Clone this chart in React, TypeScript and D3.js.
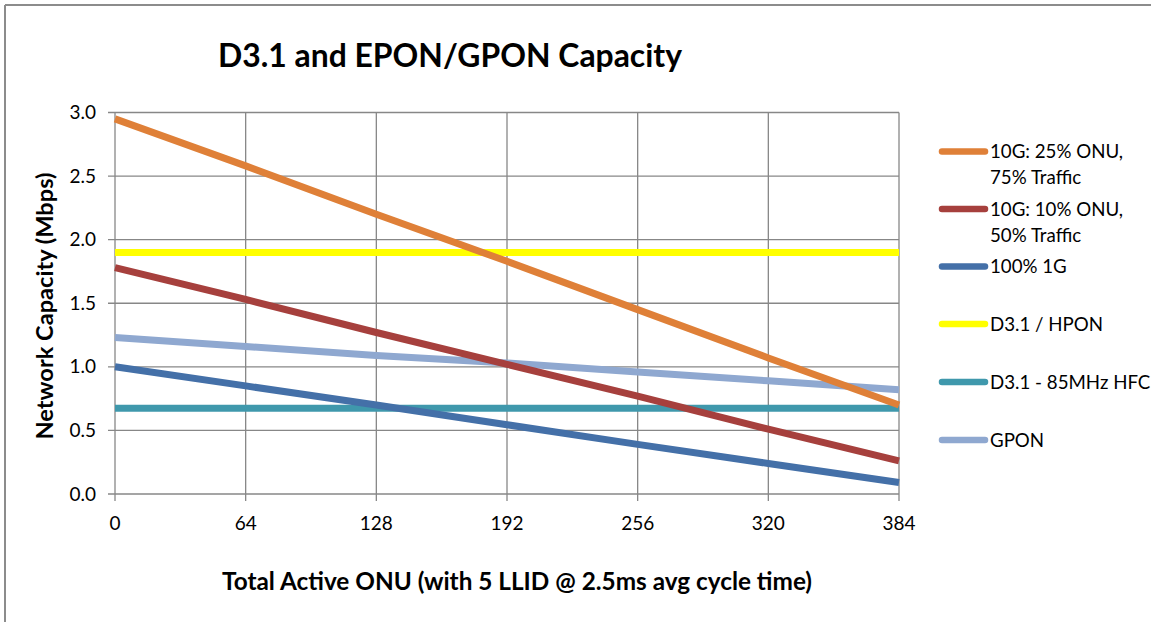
import React from "react";
import * as d3 from "d3";

const xTicks = [0, 64, 128, 192, 256, 320, 384];
const yTicks = [0, 0.5, 1.0, 1.5, 2.0, 2.5, 3.0];

const seriesNames = [
  ["10G: 25% ONU,", "75% Traffic"],
  ["10G: 10% ONU,", "50% Traffic"],
  ["100% 1G"],
  ["D3.1 / HPON"],
  ["D3.1 - 85MHz HFC"],
  ["GPON"],
];
const seriesColors = ["#DF8038", "#A6403D", "#4470A8", "#FFFF00", "#3F98AC", "#8FA8D0"];

const orange25 = [2.95, 2.58, 2.2, 1.83, 1.45, 1.07, 0.7];
const red10 = [1.78, 1.53, 1.27, 1.02, 0.77, 0.51, 0.26];
const blue1G = [1.0, 0.85, 0.7, 0.545, 0.39, 0.24, 0.09];
const yellowHPON = [1.9, 1.9, 1.9, 1.9, 1.9, 1.9, 1.9];
const tealHFC = [0.675, 0.675, 0.675, 0.675, 0.675, 0.675, 0.675];
const gpon = [1.23, 1.16, 1.09, 1.03, 0.96, 0.89, 0.82];

const seriesValues = [orange25, red10, blue1G, yellowHPON, tealHFC, gpon];
// drawing order: back to front
const drawOrder = [3, 4, 5, 2, 1, 0];

const W = 1151;
const H = 622;
const left = 115;
const right = 899;
const top = 112.5;
const bottom = 494;
const font = "Lato, Carlito, Calibri, sans-serif";

export default function App() {
  const x = d3.scaleLinear().domain([0, 384]).range([left, right]);
  const y = d3.scaleLinear().domain([0, 3]).range([bottom, top]);
  const line = d3
    .line<number>()
    .x((_, i) => x(xTicks[i]))
    .y((d) => y(d));
  const grid = "#878787";
  const legendY = [151.5, 209, 266.5, 324, 382, 440];

  return (
    <svg
      width={W}
      height={H}
      style={{ position: "absolute", left: 0, top: 0, background: "#fff" }}
      fontFamily={font}
    >
      <rect x={0} y={0} width={W} height={H} fill="#fff" />
      {/* outer frame */}
      <line x1={5} y1={5} x2={W} y2={5} stroke="#8c8c8c" strokeWidth={2} />
      <line x1={5} y1={5} x2={5} y2={H} stroke="#8c8c8c" strokeWidth={2} />

      <text
        x={450}
        y={67}
        textAnchor="middle"
        fontSize={32}
        fontWeight="bold"
        fill="#000"
        textLength={464}
        lengthAdjust="spacingAndGlyphs"
      >
        D3.1 and EPON/GPON Capacity
      </text>

      {/* grid */}
      {yTicks.map((t) => (
        <line key={"gy" + t} x1={left - 7} x2={right} y1={y(t)} y2={y(t)} stroke={grid} strokeWidth={1.3} />
      ))}
      {xTicks.map((t) => (
        <line key={"gx" + t} x1={x(t)} x2={x(t)} y1={top} y2={bottom + 7} stroke={grid} strokeWidth={1.3} />
      ))}

      {/* y labels */}
      {yTicks.map((t) => (
        <text key={"yl" + t} x={96} y={y(t)} dy="0.35em" textAnchor="end" fontSize={19} fill="#000">
          {t.toFixed(1)}
        </text>
      ))}
      {xTicks.map((t) => (
        <text key={"xl" + t} x={x(t)} y={523} dy="0.35em" textAnchor="middle" fontSize={19} fill="#000">
          {t}
        </text>
      ))}

      {/* series */}
      {drawOrder.map((i) => (
        <path
          key={"s" + i}
          d={line(seriesValues[i]) || ""}
          fill="none"
          stroke={seriesColors[i]}
          strokeWidth={7}
        />
      ))}

      {/* axis titles */}
      <text
        transform={`translate(53,306) rotate(-90)`}
        textAnchor="middle"
        fontSize={23.5}
        fontWeight="bold"
        fill="#000"
        textLength={267}
        lengthAdjust="spacingAndGlyphs"
      >
        Network Capacity (Mbps)
      </text>
      <text
        x={517}
        y={590}
        textAnchor="middle"
        fontSize={24}
        fontWeight="bold"
        fill="#000"
        textLength={590}
        lengthAdjust="spacingAndGlyphs"
      >
        Total Active ONU (with 5 LLID @ 2.5ms avg cycle time)
      </text>

      {/* legend */}
      {seriesNames.map((lines, i) => (
        <g key={"lg" + i}>
          <line
            x1={942}
            x2={985}
            y1={legendY[i]}
            y2={legendY[i]}
            stroke={seriesColors[i]}
            strokeWidth={6.5}
            strokeLinecap="round"
          />
          {lines.map((ln, j) => (
            <text key={j} x={990} y={legendY[i] + j * 26} dy="0.35em" fontSize={18.7} fill="#000">
              {ln}
            </text>
          ))}
        </g>
      ))}
    </svg>
  );
}
